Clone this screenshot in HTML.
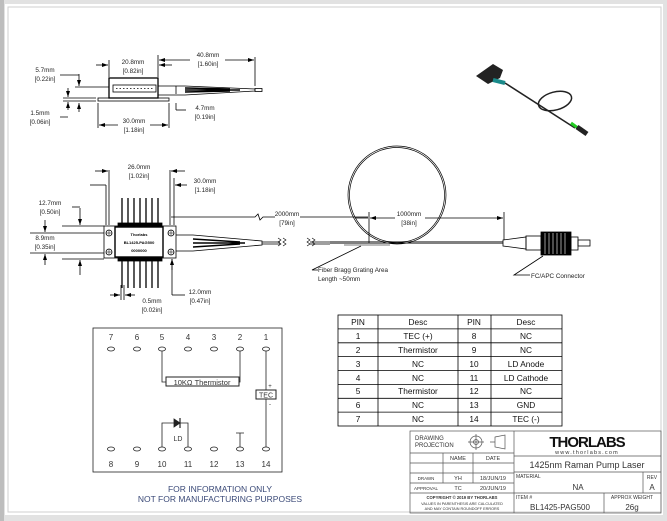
<!DOCTYPE html>
<html><head><meta charset="utf-8"><style>
html,body{margin:0;padding:0;background:#d9d9d9;}
svg{display:block;font-family:"Liberation Sans",sans-serif;}
.d{font-size:6.3px;fill:#222;text-anchor:middle;}
</style></head><body>
<svg width="667" height="521" viewBox="0 0 667 521" xmlns="http://www.w3.org/2000/svg">
<defs>
<marker id="a" markerWidth="6" markerHeight="6" refX="6" refY="3" orient="auto" markerUnits="userSpaceOnUse"><path d="M0,1 L6,3 L0,5z" fill="#000"/></marker>
</defs>
<rect x="0" y="0" width="667" height="521" fill="#e2e2e2"/>
<rect x="0" y="0" width="4" height="521" fill="#bdbdbd"/>
<rect x="5" y="4" width="658" height="511" fill="#fff"/>
<rect x="8" y="7" width="653" height="505" fill="none" stroke="#cfcfcf" stroke-width="1"/>
<g stroke="#000" fill="none" stroke-width="0.8">
<rect x="109" y="78" width="49" height="20" stroke-width="1.3"/>
<rect x="113" y="85" width="43" height="7"/>
<line x1="116" y1="88.5" x2="154" y2="88.5" stroke-dasharray="1.5,2"/>
<rect x="98" y="98" width="71" height="3"/>
<path d="M158,86 L185,86 L255,89 L255,91 L185,95 L158,95"/>
<path d="M185,88 L230,89 M185,90 L240,90 M185,92 L230,91" stroke-width="1.5"/>
<rect x="255" y="88.5" width="7" height="3"/>
<line x1="75" y1="87" x2="109" y2="87"/>
<line x1="63" y1="98" x2="96" y2="98"/>
<line x1="63" y1="101" x2="96" y2="101"/>
<line x1="79" y1="74" x2="79" y2="86" marker-end="url(#a)"/>
<line x1="68" y1="110" x2="68" y2="102" marker-end="url(#a)"/>
<line x1="79" y1="112" x2="79" y2="103" marker-end="url(#a)"/>
<line x1="68" y1="88" x2="68" y2="97" marker-end="url(#a)"/>
<path d="M60,75 L79,75 M60,117 L68,117"/>
<line x1="109" y1="60" x2="109" y2="77"/><line x1="158" y1="55" x2="158" y2="77"/>
<line x1="96" y1="65" x2="108" y2="65" marker-end="url(#a)"/>
<line x1="172" y1="65" x2="159" y2="65" marker-end="url(#a)"/>
<line x1="190" y1="60" x2="159" y2="60" marker-end="url(#a)"/>
<line x1="225" y1="60" x2="254" y2="60" marker-end="url(#a)"/>
<line x1="255" y1="57" x2="255" y2="86"/>
<line x1="98" y1="103" x2="98" y2="128"/><line x1="169" y1="103" x2="169" y2="128"/>
<line x1="118" y1="125" x2="99" y2="125" marker-end="url(#a)"/>
<line x1="150" y1="125" x2="168" y2="125" marker-end="url(#a)"/>
<line x1="176" y1="86" x2="176" y2="94"/><line x1="176" y1="103" x2="176" y2="110"/><line x1="176" y1="110" x2="186" y2="110"/>
<rect x="104" y="226" width="72" height="32"/>
<rect x="115" y="227" width="48" height="30" stroke-width="1.4"/>
<circle cx="109" cy="233" r="3"/><circle cx="109" cy="252" r="3"/>
<circle cx="171" cy="233" r="3"/><circle cx="171" cy="252" r="3"/>
<path d="M106,233h6M109,230v6M106,252h6M109,249v6M168,233h6M171,230v6M168,252h6M171,249v6" stroke-width="0.5"/>
<g stroke-width="1.3">
<path d="M122,198V227M128,198V227M134,198V227M140,198V227M146,198V227M152,198V227M158,198V227"/>
<path d="M122,257V288M128,257V288M134,257V288M140,257V288M146,257V288M152,257V288M158,257V288"/>
</g>
<rect x="118" y="223" width="44" height="3" fill="#000"/>
<rect x="118" y="258" width="44" height="3" fill="#000"/>
<path d="M176,235 L193,235 L262,241 L262,245 L193,251 L176,251"/>
<path d="M193,239L240,242M193,243L245,243M193,247L240,244" stroke-width="1.4"/>
<path d="M262,242H280M262,244H280M310,242H330M310,244H330"/>
<path d="M278,238l3,2-3,2 3,2-3,2M283,238l3,2-3,2 3,2-3,2M307,238l3,2-3,2 3,2-3,2M312,238l3,2-3,2 3,2-3,2" stroke-width="0.6"/>
<path d="M330,243 L503,243" stroke-width="1"/>
<path d="M330,241.5 L503,241.5" stroke-width="0.5"/>
<line x1="109" y1="170" x2="109" y2="225"/><line x1="170" y1="170" x2="170" y2="225"/>
<line x1="95" y1="171" x2="108" y2="171" marker-end="url(#a)"/>
<line x1="185" y1="171" x2="171" y2="171" marker-end="url(#a)"/>
<line x1="174" y1="178" x2="174" y2="225"/>
<line x1="187" y1="185" x2="175" y2="185" marker-end="url(#a)"/>
<line x1="90" y1="185" x2="106" y2="185"/><line x1="106" y1="185" x2="106" y2="225"/>
<path d="M171,217 L255,217 l3,-3 l2,6 l3,-3 L275,217 M300,217 L368,217"/>
<path d="M80,208 L80,225" marker-end="url(#a)"/><path d="M80,275 L80,260" marker-end="url(#a)"/>
<path d="M72,207 L80,207"/>
<path d="M62,226 H104 M62,259 H104 M30,233 H104 M30,253 H104"/>
<path d="M45,220 L45,232" marker-end="url(#a)"/><path d="M45,265 L45,254" marker-end="url(#a)"/>
<line x1="172" y1="270" x2="172" y2="259" marker-end="url(#a)"/>
<line x1="172" y1="259" x2="172" y2="295"/><line x1="172" y1="295" x2="185" y2="295"/>
<line x1="121" y1="285" x2="121" y2="300"/><line x1="124" y1="285" x2="124" y2="300"/>
<line x1="110" y1="295" x2="120" y2="295" marker-end="url(#a)"/><line x1="135" y1="295" x2="125" y2="295" marker-end="url(#a)"/>
<circle cx="397" cy="195" r="49" stroke-width="0.7"/>
<circle cx="397" cy="195" r="47.5" stroke-width="0.7"/>
<line x1="369" y1="212" x2="369" y2="243"/><line x1="504" y1="212" x2="504" y2="240"/>
<line x1="395" y1="218" x2="370" y2="218" marker-end="url(#a)"/>
<line x1="425" y1="218" x2="503" y2="218" marker-end="url(#a)"/>
<line x1="355" y1="218" x2="368" y2="218"/>
<rect x="344" y="244" width="46" height="2" fill="#bbb" stroke="none"/>
<path d="M361,246 L312,270 L318,270"/>
<path d="M503,240 L526,237 L526,249 L503,246z"/>
<rect x="526" y="236" width="15" height="14"/>
<rect x="541" y="232" width="30" height="23" fill="#000"/>
<path d="M545,233V254M549,233V254M553,233V254M557,233V254M561,233V254M565,233V254" stroke="#fff" stroke-width="0.6"/>
<rect x="571" y="237" width="7" height="13"/>
<rect x="578" y="240" width="12" height="6"/>
<path d="M543,256 L514,275 L530,275"/>
</g>
<g class="d">
<text x="133" y="64">20.8mm</text><text x="133" y="73">[0.82in]</text>
<text x="208" y="57">40.8mm</text><text x="208" y="66">[1.60in]</text>
<text x="45" y="72">5.7mm</text><text x="45" y="81">[0.22in]</text>
<text x="40" y="115">1.5mm</text><text x="40" y="124">[0.06in]</text>
<text x="134" y="123">30.0mm</text><text x="134" y="132">[1.18in]</text>
<text x="205" y="110">4.7mm</text><text x="205" y="119">[0.19in]</text>
<text x="139" y="169">26.0mm</text><text x="139" y="178">[1.02in]</text>
<text x="205" y="183">30.0mm</text><text x="205" y="192">[1.18in]</text>
<text x="50" y="205">12.7mm</text><text x="50" y="214">[0.50in]</text>
<text x="45" y="240">8.9mm</text><text x="45" y="249">[0.35in]</text>
<text x="200" y="294">12.0mm</text><text x="200" y="303">[0.47in]</text>
<text x="152" y="303">0.5mm</text><text x="152" y="312">[0.02in]</text>
<text x="287" y="216">2000mm</text><text x="287" y="225">[79in]</text>
<text x="409" y="216">1000mm</text><text x="409" y="225">[38in]</text>
</g>
<g font-size="4" font-weight="bold" text-anchor="middle"><text x="139" y="236">Thorlabs</text><text x="139" y="244">BL1425-PAG500</text><text x="139" y="252">0000000</text></g>
<g font-size="6.3" fill="#222"><text x="318" y="272">Fiber Bragg Grating Area</text><text x="318" y="281">Length ~50mm</text><text x="531" y="278">FC/APC Connector</text></g>
<g>
<path d="M476,76 L493,64 L503,70 L500,78 L488,84z" fill="#222"/>
<path d="M493,80 L505,83" stroke="#1a8a8a" stroke-width="4"/>
<path d="M505,83 L575,128" stroke="#222" stroke-width="1.5"/>
<ellipse cx="555" cy="101" rx="17" ry="9" transform="rotate(-15 555 101)" fill="none" stroke="#222" stroke-width="1.5"/>
<path d="M571,123 L582,131" stroke="#2c2" stroke-width="3"/>
<path d="M577,127 L587,134" stroke="#222" stroke-width="5"/>
</g>
<g stroke="#000" fill="none" stroke-width="0.8">
<rect x="338" y="315" width="224" height="111"/>
<path d="M378,315V426M458,315V426M491,315V426"/>
<path d="M338,328.9H562M338,342.8H562M338,356.6H562M338,370.5H562M338,384.4H562M338,398.3H562M338,412.1H562"/>
</g>
<g font-size="8.3" fill="#111" text-anchor="middle">
<text x="358" y="325">PIN</text><text x="418" y="325">Desc</text><text x="474" y="325">PIN</text><text x="526" y="325">Desc</text>
<text x="358" y="339">1</text><text x="418" y="339">TEC (+)</text><text x="474" y="339">8</text><text x="526" y="339">NC</text>
<text x="358" y="353">2</text><text x="418" y="353">Thermistor</text><text x="474" y="353">9</text><text x="526" y="353">NC</text>
<text x="358" y="367">3</text><text x="418" y="367">NC</text><text x="474" y="367">10</text><text x="526" y="367">LD Anode</text>
<text x="358" y="381">4</text><text x="418" y="381">NC</text><text x="474" y="381">11</text><text x="526" y="381">LD Cathode</text>
<text x="358" y="394">5</text><text x="418" y="394">Thermistor</text><text x="474" y="394">12</text><text x="526" y="394">NC</text>
<text x="358" y="408">6</text><text x="418" y="408">NC</text><text x="474" y="408">13</text><text x="526" y="408">GND</text>
<text x="358" y="422">7</text><text x="418" y="422">NC</text><text x="474" y="422">14</text><text x="526" y="422">TEC (-)</text>
</g>
<g stroke="#222" fill="none" stroke-width="0.8">
<rect x="93" y="328" width="189" height="144"/>
<g fill="#fff">
<ellipse cx="111" cy="349" rx="3.5" ry="2"/><ellipse cx="137" cy="349" rx="3.5" ry="2"/><ellipse cx="162" cy="349" rx="3.5" ry="2"/><ellipse cx="188" cy="349" rx="3.5" ry="2"/><ellipse cx="214" cy="349" rx="3.5" ry="2"/><ellipse cx="240" cy="349" rx="3.5" ry="2"/><ellipse cx="266" cy="349" rx="3.5" ry="2"/>
<ellipse cx="111" cy="449" rx="3.5" ry="2"/><ellipse cx="137" cy="449" rx="3.5" ry="2"/><ellipse cx="162" cy="449" rx="3.5" ry="2"/><ellipse cx="188" cy="449" rx="3.5" ry="2"/><ellipse cx="214" cy="449" rx="3.5" ry="2"/><ellipse cx="240" cy="449" rx="3.5" ry="2"/><ellipse cx="266" cy="449" rx="3.5" ry="2"/>
</g>
<path d="M162,351V382H166M240,351V382H239"/>
<rect x="166" y="377" width="73" height="9" stroke-width="1"/>
<path d="M266,351V390M266,399V447"/>
<rect x="256" y="390" width="20" height="9" fill="#fff" stroke-width="1"/>
<path d="M162,447V423H174M180,423H188V447"/>
<path d="M174,419L180,423L174,427z" fill="#222"/><path d="M180,418V428" stroke-width="1.2"/>
<path d="M240,447V433M236,433H244"/>
</g>
<g font-size="8" fill="#333" text-anchor="middle">
<text x="111" y="340">7</text><text x="137" y="340">6</text><text x="162" y="340">5</text><text x="188" y="340">4</text><text x="214" y="340">3</text><text x="240" y="340">2</text><text x="266" y="340">1</text>
<text x="111" y="467">8</text><text x="137" y="467">9</text><text x="162" y="467">10</text><text x="188" y="467">11</text><text x="214" y="467">12</text><text x="240" y="467">13</text><text x="266" y="467">14</text>
<text x="202" y="385" font-size="7.5">10KΩ  Thermistor</text>
<text x="266" y="397.5" font-size="7">TEC</text>
<text x="178" y="441" font-size="7">LD</text>
<text x="270" y="388" font-size="6">+</text><text x="270" y="406" font-size="6">-</text>
</g>
<g font-size="8.5" fill="#3b4a78" text-anchor="middle">
<text x="220" y="492">FOR INFORMATION ONLY</text>
<text x="220" y="502">NOT FOR MANUFACTURING PURPOSES</text>
</g>
<g stroke="#555" fill="none" stroke-width="0.7">
<rect x="410" y="431" width="251" height="82"/>
<path d="M514,431V513M410,453H514M410,463H514M410,473H514M410,483H514M410,493H514M443,453V483M473,453V483"/>
<path d="M514,456H661M514,472H661M514,493H661M643,472V493M604,493V513"/>
<circle cx="476" cy="442" r="6"/><circle cx="476" cy="442" r="2.5"/><path d="M468,442H484M476,434V450"/>
<path d="M490,442H495M495,437L505,435V449L495,447z" />
</g>
<g fill="#333">
<text x="415" y="440" font-size="6">DRAWING</text><text x="415" y="447" font-size="6">PROJECTION</text>
<g font-size="5.5" text-anchor="middle"><text x="458" y="460">NAME</text><text x="493" y="460">DATE</text>
<text x="426" y="480" font-size="4.5">DRAWN</text><text x="458" y="480">YH</text><text x="493" y="480">18/JUN/19</text>
<text x="426" y="490" font-size="4.5">APPROVAL</text><text x="458" y="490">TC</text><text x="493" y="490">20/JUN/19</text>
<text x="462" y="499" font-size="4.2" font-weight="bold">COPYRIGHT © 2019 BY THORLABS</text>
<text x="462" y="505" font-size="3.8">VALUES IN PARENTHESIS ARE CALCULATED</text>
<text x="462" y="510" font-size="3.8">AND MAY CONTAIN ROUNDOFF ERRORS</text></g>
<text x="587" y="447" font-size="15" font-weight="bold" text-anchor="middle" fill="#111" letter-spacing="-1">THORLABS</text>
<text x="587" y="454" font-size="5.5" text-anchor="middle" letter-spacing="1.2">www.thorlabs.com</text>
<text x="587" y="468" font-size="9" text-anchor="middle">1425nm Raman Pump Laser</text>
<text x="516" y="478" font-size="5">MATERIAL</text>
<text x="578" y="490" font-size="8" text-anchor="middle">NA</text>
<text x="652" y="479" font-size="5" text-anchor="middle">REV</text><text x="652" y="490" font-size="8" text-anchor="middle">A</text>
<text x="516" y="499" font-size="5">ITEM #</text>
<text x="560" y="510" font-size="8" text-anchor="middle">BL1425-PAG500</text>
<text x="632" y="499" font-size="5" text-anchor="middle">APPROX WEIGHT</text>
<text x="632" y="510" font-size="8" text-anchor="middle">26g</text>
</g>
</svg>
</body></html>
